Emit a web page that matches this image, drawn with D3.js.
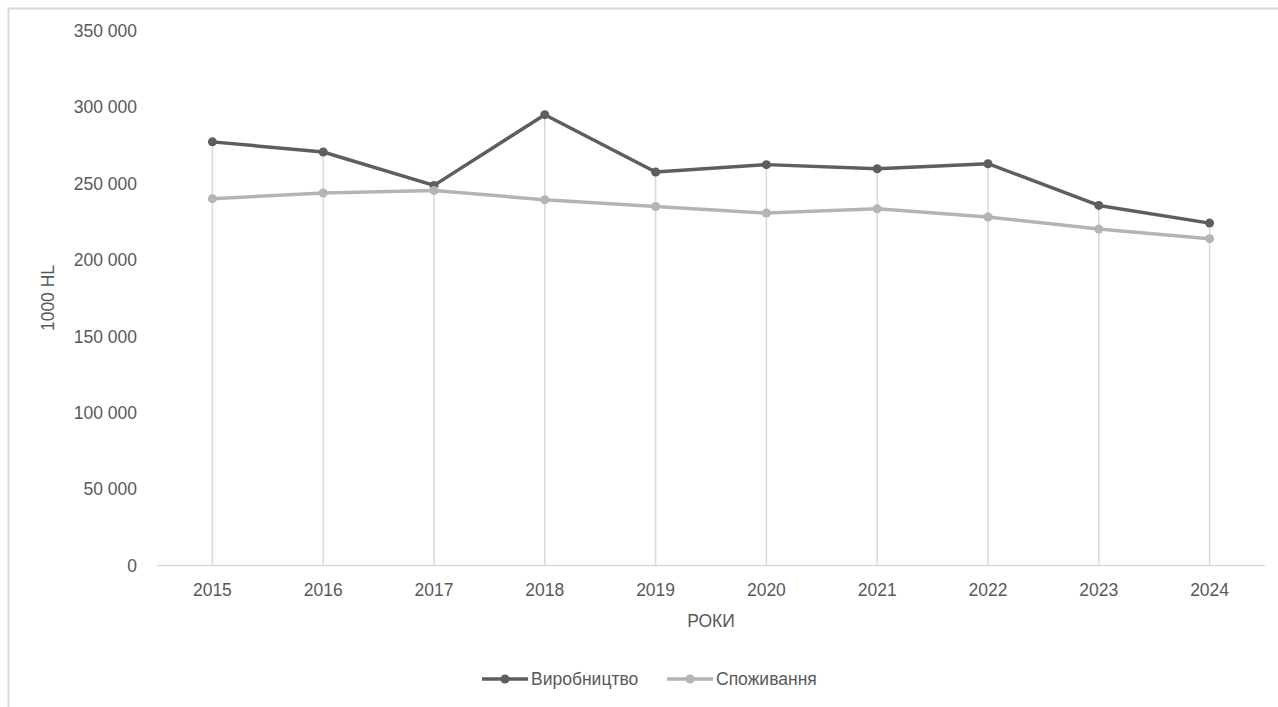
<!DOCTYPE html>
<html>
<head>
<meta charset="utf-8">
<script src="https://cdn.jsdelivr.net/npm/d3@7"></script>
<style>
  body { margin: 0; background: #fff; }
  svg { font-family: "Liberation Sans", Arial, sans-serif; }
</style>
</head>
<body>
<div id="chart"></div>
<script>
// data
const years = ["2015","2016","2017","2018","2019","2020","2021","2022","2023","2024"];
const production = [277400, 270800, 248900, 295200, 257700, 262500, 259800, 263100, 235800, 224200];
const consumption = [240200, 243900, 245600, 239500, 235100, 230800, 233600, 228200, 220300, 214000];
const yTicks = [0, 50000, 100000, 150000, 200000, 250000, 300000, 350000];

const seriesNames = ["Виробництво", "Споживання"];
const seriesColors = ["#5e5e5e", "#b4b4b4"];

const width = 1278, height = 707;
const fontSize = "17.5px";

const svg = d3.select("#chart").append("svg")
  .attr("width", width)
  .attr("height", height);

// chart frame (runs off the right and bottom edges)
svg.append("rect")
  .attr("x", 8.5).attr("y", 8.5)
  .attr("width", width + 20).attr("height", height + 20)
  .attr("fill", "none").attr("stroke", "#d9d9d9").attr("stroke-width", 2);

const x = d3.scaleBand().domain(years).range([157, 1265]);
const y = d3.scaleLinear().domain([0, 350000]).range([565.5, 31]);
const fmt = v => d3.format(",")(v).replace(/,/g, " ");

// drop lines from the higher point to the axis
svg.append("g")
  .selectAll("line")
  .data(years).enter()
  .append("line")
  .attr("x1", d => x(d) + x.bandwidth() / 2)
  .attr("x2", d => x(d) + x.bandwidth() / 2)
  .attr("y1", (d, i) => y(Math.max(production[i], consumption[i])))
  .attr("y2", y(0))
  .attr("stroke", "#d9d9d9").attr("stroke-width", 1.5);

// x axis line
svg.append("line")
  .attr("x1", 157).attr("x2", 1265)
  .attr("y1", y(0)).attr("y2", y(0))
  .attr("stroke", "#d9d9d9").attr("stroke-width", 1.5);

// y tick labels
svg.append("g")
  .selectAll("text")
  .data(yTicks).enter()
  .append("text")
  .attr("x", 137)
  .attr("y", d => y(d))
  .attr("dy", "0.35em")
  .attr("text-anchor", "end")
  .attr("fill", "#595959")
  .style("font-size", fontSize)
  .text(d => fmt(d));

// x tick labels
svg.append("g")
  .selectAll("text")
  .data(years).enter()
  .append("text")
  .attr("x", d => x(d) + x.bandwidth() / 2)
  .attr("y", 590)
  .attr("dy", "0.35em")
  .attr("text-anchor", "middle")
  .attr("fill", "#595959")
  .style("font-size", fontSize)
  .text(d => d);

// axis titles
svg.append("text")
  .attr("transform", "translate(48,298) rotate(-90)")
  .attr("dy", "0.35em")
  .attr("text-anchor", "middle")
  .attr("fill", "#595959")
  .style("font-size", fontSize)
  .text("1000 HL");

svg.append("text")
  .attr("x", 711).attr("y", 621)
  .attr("dy", "0.35em")
  .attr("text-anchor", "middle")
  .attr("fill", "#595959")
  .style("font-size", fontSize)
  .text("РОКИ");

// series
const line = d3.line()
  .x((d, i) => x(years[i]) + x.bandwidth() / 2)
  .y(d => y(d));

[production, consumption].forEach((vals, k) => {
  svg.append("path")
    .datum(vals)
    .attr("d", line)
    .attr("fill", "none")
    .attr("stroke", seriesColors[k])
    .attr("stroke-width", 3.5)
    .attr("stroke-linejoin", "round");
  svg.append("g")
    .selectAll("circle")
    .data(vals).enter()
    .append("circle")
    .attr("cx", (d, i) => x(years[i]) + x.bandwidth() / 2)
    .attr("cy", d => y(d))
    .attr("r", 4.5)
    .attr("fill", seriesColors[k]);
});

// legend
const legendX = [482, 667];
seriesNames.forEach((name, k) => {
  const g = svg.append("g").attr("transform", "translate(" + legendX[k] + ",679)");
  g.append("line").attr("x1", 0).attr("x2", 46).attr("y1", 0).attr("y2", 0)
    .attr("stroke", seriesColors[k]).attr("stroke-width", 3.5);
  g.append("circle").attr("cx", 23).attr("cy", 0).attr("r", 4.5).attr("fill", seriesColors[k]);
  g.append("text").attr("x", 49).attr("y", 0).attr("dy", "0.35em")
    .attr("fill", "#595959").style("font-size", fontSize).text(name);
});
</script>
</body>
</html>
